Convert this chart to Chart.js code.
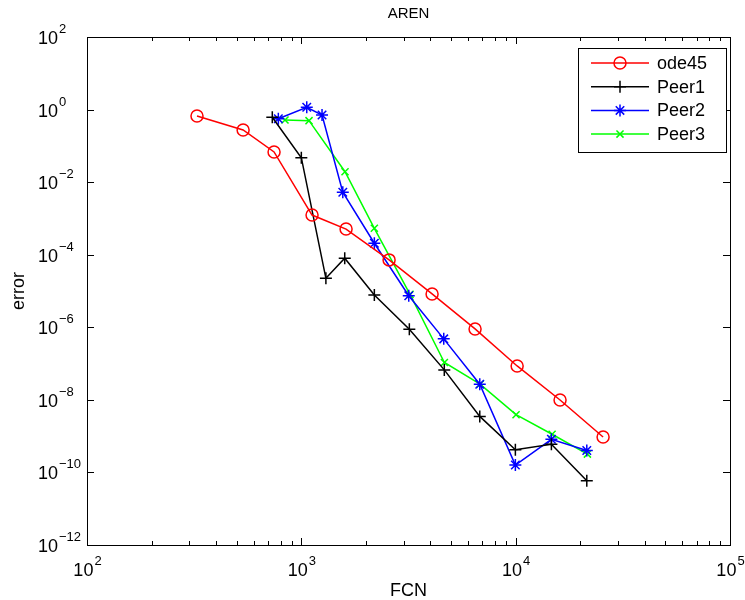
<!DOCTYPE html>
<html>
<head>
<meta charset="utf-8">
<title>AREN</title>
<script src="https://cdn.jsdelivr.net/npm/chart.js@4/dist/chart.umd.min.js"></script>
<style>
    html, body { margin: 0; padding: 0; background: #fff; }
    #chart { display: block; }
</style>
</head>
<body>
<canvas id="chart" width="745" height="600"></canvas>
<script>
// values (FCN vs. error, log-log)
const fcnOde45 = [326, 535, 746, 1122, 1617, 2567, 4074, 6465, 10160, 16110, 25580];
const errOde45 = [0.665, 0.274, 0.0678, 1.24e-3, 5.1e-4, 7.2e-5, 8.3e-6, 9.0e-7, 8.6e-8, 9.9e-9, 9.5e-10];

const fcnPeer1 = [732, 1000, 1302, 1594, 2191, 3191, 4645, 6800, 9968, 14680, 21470];
const errPeer1 = [0.612, 0.0472, 2.24e-5, 8.0e-5, 7.8e-6, 8.8e-7, 6.7e-8, 3.5e-9, 4.2e-10, 6.0e-10, 5.9e-11];

const fcnPeer2 = [781, 1060, 1249, 1561, 2191, 3171, 4618, 6800, 9968, 14680, 21470];
const errPeer2 = [0.561, 1.156, 0.71, 5.26e-3, 2.07e-4, 7.4e-6, 4.8e-7, 2.7e-8, 1.6e-10, 8.2e-10, 4.0e-10];

const fcnPeer3 = [839, 1086, 1599, 2191, 3215, 4650, 6820, 10040, 14790, 21610];
const errPeer3 = [0.516, 0.494, 0.0194, 5.35e-4, 8.1e-6, 1.07e-7, 2.7e-8, 3.9e-9, 1.13e-9, 3.2e-10];

const xTickValues = [1e2, 1e3, 1e4, 1e5];
const xTickExps = ['2', '3', '4', '5'];
const yTickValues = [1e2, 1e0, 1e-2, 1e-4, 1e-6, 1e-8, 1e-10, 1e-12];
const yTickExps = ['2', '0', '\u22122', '\u22124', '\u22126', '\u22128', '\u221210', '\u221212'];

const seriesNames = ['ode45', 'Peer1', 'Peer2', 'Peer3'];

const FONT = '"Liberation Sans", Arial, Helvetica, sans-serif';

function toPoints(xs, ys) {
    return xs.map((x, i) => ({ x: x, y: ys[i] }));
}

function makeDataset(label, xs, ys, color, style, radius) {
    return {
        label: label,
        data: toPoints(xs, ys),
        borderColor: color,
        backgroundColor: 'rgba(0,0,0,0)',
        borderWidth: 1.5,
        showLine: true,
        tension: 0,
        pointStyle: style,
        pointRadius: radius,
        pointHoverRadius: radius,
        pointBorderColor: color,
        pointBackgroundColor: 'rgba(0,0,0,0)',
        pointBorderWidth: 1.5
    };
}

function drawMarker(ctx, style, radius, x, y) {
    if (Chart.helpers && Chart.helpers.drawPoint) {
        Chart.helpers.drawPoint(ctx, { pointStyle: style, radius: radius, rotation: 0, borderWidth: 1.5 }, x, y);
        return;
    }
    ctx.beginPath();
    if (style === 'circle') {
        ctx.arc(x, y, radius, 0, Math.PI * 2);
    } else {
        if (style !== 'crossRot') {
            ctx.moveTo(x - radius, y); ctx.lineTo(x + radius, y);
            ctx.moveTo(x, y - radius); ctx.lineTo(x, y + radius);
        }
        if (style !== 'cross') {
            const d = radius * Math.SQRT1_2;
            ctx.moveTo(x - d, y - d); ctx.lineTo(x + d, y + d);
            ctx.moveTo(x - d, y + d); ctx.lineTo(x + d, y - d);
        }
    }
    ctx.stroke();
}

// MATLAB-ish frame: box, inward ticks, 10^n labels, titles, legend
const matlabAxes = {
    id: 'matlabAxes',
    beforeDraw(chart) {
        const ctx = chart.ctx;
        ctx.save();
        ctx.fillStyle = '#fff';
        ctx.fillRect(0, 0, chart.width, chart.height);
        ctx.restore();
    },
    afterDatasetsDraw(chart) {
        const ctx = chart.ctx;
        const area = chart.chartArea;
        const xs = chart.scales.x;
        const ys = chart.scales.y;

        ctx.save();
        ctx.strokeStyle = '#000';
        ctx.lineWidth = 1;
        ctx.strokeRect(Math.round(area.left) + 0.5, Math.round(area.top) + 0.5,
            Math.round(area.right - area.left), Math.round(area.bottom - area.top));

        // x ticks: decades plus minor 2..9
        ctx.beginPath();
        for (let d = 0; d < xTickValues.length; d++) {
            const px = Math.round(xs.getPixelForValue(xTickValues[d])) + 0.5;
            ctx.moveTo(px, area.bottom); ctx.lineTo(px, area.bottom - 7);
            ctx.moveTo(px, area.top); ctx.lineTo(px, area.top + 7);
            if (d < xTickValues.length - 1) {
                for (let k = 2; k <= 9; k++) {
                    const mx = Math.round(xs.getPixelForValue(k * xTickValues[d])) + 0.5;
                    ctx.moveTo(mx, area.bottom); ctx.lineTo(mx, area.bottom - 4);
                    ctx.moveTo(mx, area.top); ctx.lineTo(mx, area.top + 4);
                }
            }
        }
        yTickValues.forEach(v => {
            const py = Math.round(ys.getPixelForValue(v)) + 0.5;
            ctx.moveTo(area.left, py); ctx.lineTo(area.left + 7, py);
            ctx.moveTo(area.right, py); ctx.lineTo(area.right - 7, py);
        });
        ctx.stroke();

        // tick labels
        ctx.fillStyle = '#000';
        ctx.textBaseline = 'alphabetic';
        xTickValues.forEach((v, i) => {
            const px = xs.getPixelForValue(v);
            ctx.font = '18px ' + FONT;
            const baseW = ctx.measureText('10').width;
            ctx.font = '13px ' + FONT;
            const expW = ctx.measureText(xTickExps[i]).width;
            const left = px - (baseW + expW) / 2;
            ctx.font = '18px ' + FONT;
            ctx.textAlign = 'left';
            ctx.fillText('10', left, area.bottom + 31);
            ctx.font = '13px ' + FONT;
            ctx.fillText(xTickExps[i], left + baseW + 1, area.bottom + 20);
        });
        yTickValues.forEach((v, i) => {
            const py = ys.getPixelForValue(v);
            ctx.font = '18px ' + FONT;
            ctx.textAlign = 'right';
            ctx.fillText('10', area.left - 29, py + 7);
            ctx.font = '13px ' + FONT;
            ctx.textAlign = 'left';
            ctx.fillText(yTickExps[i], area.left - 28, py - 4);
        });

        // title and axis names
        const cx = (area.left + area.right) / 2;
        ctx.textAlign = 'center';
        ctx.font = '15px ' + FONT;
        ctx.fillText('AREN', cx, area.top - 19);
        ctx.font = '18px ' + FONT;
        ctx.fillText('FCN', cx, chart.height - 4);
        ctx.save();
        ctx.translate(24, (area.top + area.bottom) / 2);
        ctx.rotate(-Math.PI / 2);
        ctx.fillText('error', 0, 0);
        ctx.restore();

        // legend box in the upper right corner
        const boxW = 148, boxH = 104;
        const bx = Math.round(area.right) - 4 - boxW;
        const by = Math.round(area.top) + 11;
        ctx.fillStyle = '#fff';
        ctx.fillRect(bx, by, boxW, boxH);
        ctx.strokeStyle = '#000';
        ctx.lineWidth = 1;
        ctx.strokeRect(bx + 0.5, by + 0.5, boxW, boxH);
        ctx.font = '18px ' + FONT;
        ctx.textAlign = 'left';
        ctx.textBaseline = 'middle';
        chart.data.datasets.forEach((ds, i) => {
            const ry = by + 15 + i * 23.7;
            ctx.strokeStyle = ds.borderColor;
            ctx.lineWidth = 1.5;
            ctx.beginPath();
            ctx.moveTo(bx + 13, ry); ctx.lineTo(bx + 71, ry);
            ctx.stroke();
            ctx.fillStyle = 'rgba(0,0,0,0)';
            drawMarker(ctx, ds.pointStyle, ds.pointRadius, bx + 42, ry);
            ctx.fillStyle = '#000';
            ctx.fillText(ds.label, bx + 79, ry + 1);
        });
        ctx.restore();
    }
};

new Chart(document.getElementById('chart'), {
    type: 'scatter',
    data: {
        datasets: [
            makeDataset(seriesNames[0], fcnOde45, errOde45, '#ff0000', 'circle', 6),
            makeDataset(seriesNames[1], fcnPeer1, errPeer1, '#000000', 'cross', 6),
            makeDataset(seriesNames[2], fcnPeer2, errPeer2, '#0000ff', 'star', 6),
            makeDataset(seriesNames[3], fcnPeer3, errPeer3, '#00ff00', 'crossRot', 5)
        ]
    },
    options: {
        responsive: false,
        animation: false,
        layout: {
            padding: { top: 37, right: 15, left: 0, bottom: 0 }
        },
        scales: {
            x: {
                type: 'logarithmic',
                min: 1e2,
                max: 1e5,
                grid: { display: false },
                border: { display: false },
                ticks: { display: false },
                afterFit: s => { s.height = 55; }
            },
            y: {
                type: 'logarithmic',
                min: 1e-12,
                max: 1e2,
                grid: { display: false },
                border: { display: false },
                ticks: { display: false },
                afterFit: s => { s.width = 87; }
            }
        },
        plugins: {
            legend: { display: false },
            title: { display: false },
            tooltip: { enabled: false }
        }
    },
    plugins: [matlabAxes]
});
</script>
</body>
</html>
